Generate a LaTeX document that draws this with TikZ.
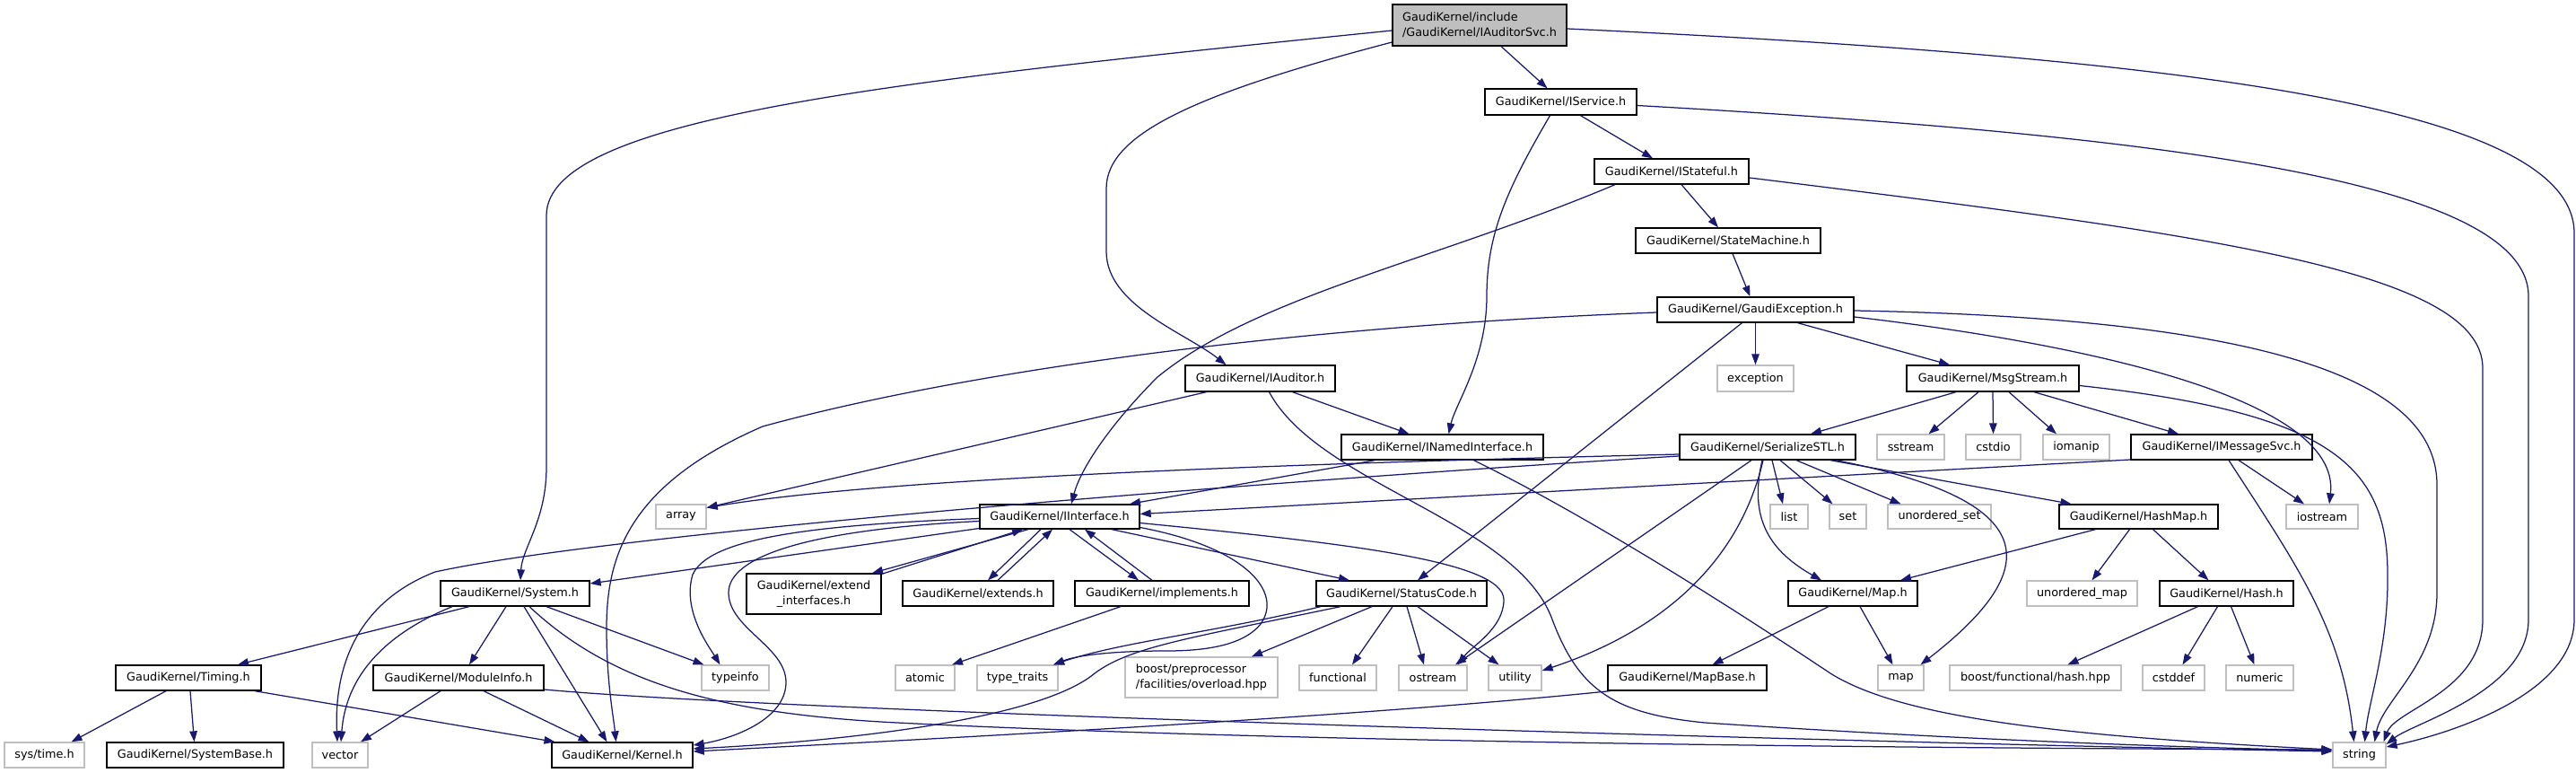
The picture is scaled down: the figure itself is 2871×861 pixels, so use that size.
\documentclass[tikz,border=0pt]{standalone}
\usepackage{fontspec}
\setmainfont{DejaVu Sans}
\usetikzlibrary{arrows.meta,calc}
\definecolor{eb}{HTML}{191970}
\definecolor{gb}{HTML}{BFBFBF}
\tikzset{
  nb/.style={fill=white, line width=1.3pt, inner sep=0pt, text=black,
    font=\fontsize{12.8}{17}\selectfont},
  pf/.style={nb, draw=black},
  sy/.style={nb, draw=gb},
  ed/.style={draw=eb, line width=1.25pt, -{Triangle[length=12pt,width=8.5pt]}},
}
\begin{document}
\begin{tikzpicture}[x=1pt,y=-1pt]
\path[use as bounding box, fill=white] (0,0) rectangle (2871,861);

% ---------- nodes ----------
\node[pf, fill=gb, minimum width=194pt, minimum height=46pt, align=left] (top) at (1649,28) {GaudiKernel/include\\/GaudiKernel/IAuditorSvc.h};
\node[pf, minimum width=169pt, minimum height=29pt] (IService) at (1739.5,113.5) {GaudiKernel/IService.h};
\node[pf, minimum width=172pt, minimum height=28pt] (IStateful) at (1863,191) {GaudiKernel/IStateful.h};
\node[pf, minimum width=206pt, minimum height=28pt] (StateMachine) at (1926,268) {GaudiKernel/StateMachine.h};
\node[pf, minimum width=219pt, minimum height=28pt] (GaudiException) at (1956.5,345) {GaudiKernel/GaudiException.h};
\node[pf, minimum width=167pt, minimum height=29pt] (IAuditor) at (1404.5,421.5) {GaudiKernel/IAuditor.h};
\node[sy, minimum width=85pt, minimum height=29pt] (exception) at (1956.5,421.5) {exception};
\node[pf, minimum width=192pt, minimum height=29pt] (MsgStream) at (2221,421.5) {GaudiKernel/MsgStream.h};
\node[pf, minimum width=225pt, minimum height=28pt] (INamedInterface) at (1607.5,498) {GaudiKernel/INamedInterface.h};
\node[pf, minimum width=196pt, minimum height=28pt] (SerializeSTL) at (1970,498) {GaudiKernel/SerializeSTL.h};
\node[sy, minimum width=75pt, minimum height=28pt] (sstream) at (2129.5,498) {sstream};
\node[sy, minimum width=61pt, minimum height=28pt] (cstdio) at (2221.5,498) {cstdio};
\node[sy, minimum width=74pt, minimum height=28pt] (iomanip) at (2314,498) {iomanip};
\node[pf, minimum width=202pt, minimum height=28pt] (IMessageSvc) at (2476,498) {GaudiKernel/IMessageSvc.h};
\node[sy, minimum width=56pt, minimum height=27pt] (array) at (759,575.5) {array};
\node[pf, minimum width=178pt, minimum height=27pt] (IInterface) at (1181,575.5) {GaudiKernel/IInterface.h};
\node[sy, minimum width=42pt, minimum height=27pt] (list) at (1994,575.5) {list};
\node[sy, minimum width=41pt, minimum height=27pt] (set) at (2059.5,575.5) {set};
\node[sy, minimum width=115pt, minimum height=27pt] (unorderedset) at (2161.5,575.5) {unordered\_set};
\node[pf, minimum width=177pt, minimum height=27pt] (HashMap) at (2383.5,575.5) {GaudiKernel/HashMap.h};
\node[sy, minimum width=80pt, minimum height=27pt] (iostream) at (2588,575.5) {iostream};
\node[pf, minimum width=166pt, minimum height=28pt] (System) at (574,661) {GaudiKernel/System.h};
\node[pf, minimum width=150pt, minimum height=45pt, align=center] (extendinterfaces) at (907,661.5) {GaudiKernel/extend\\\_interfaces.h};
\node[pf, minimum width=168pt, minimum height=28pt] (extends) at (1090,661) {GaudiKernel/extends.h};
\node[pf, minimum width=194pt, minimum height=28pt] (implements) at (1295,661) {GaudiKernel/implements.h};
\node[pf, minimum width=190pt, minimum height=28pt] (StatusCode) at (1562,661) {GaudiKernel/StatusCode.h};
\node[pf, minimum width=144pt, minimum height=28pt] (Map) at (2065,661) {GaudiKernel/Map.h};
\node[sy, minimum width=123pt, minimum height=28pt] (unorderedmap) at (2320.5,661) {unordered\_map};
\node[pf, minimum width=149pt, minimum height=28pt] (Hash) at (2481.5,661) {GaudiKernel/Hash.h};
\node[pf, minimum width=162pt, minimum height=28pt] (Timing) at (210,755) {GaudiKernel/Timing.h};
\node[pf, minimum width=190pt, minimum height=28pt] (ModuleInfo) at (511,755) {GaudiKernel/ModuleInfo.h};
\node[sy, minimum width=75pt, minimum height=28pt] (typeinfo) at (819.5,755) {typeinfo};
\node[sy, minimum width=66pt, minimum height=28pt] (atomic) at (1031,755) {atomic};
\node[sy, minimum width=90pt, minimum height=28pt] (typetraits) at (1134,755) {type\_traits};
\node[sy, minimum width=170pt, minimum height=45pt, align=left] (boostpp) at (1339,754.5) {boost/preprocessor\\/facilities/overload.hpp};
\node[sy, minimum width=86pt, minimum height=28pt] (functional) at (1491,755) {functional};
\node[sy, minimum width=76pt, minimum height=28pt] (ostream) at (1597,755) {ostream};
\node[sy, minimum width=59pt, minimum height=28pt] (utility) at (1688.5,755) {utility};
\node[pf, minimum width=177pt, minimum height=28pt] (MapBase) at (1880.5,755) {GaudiKernel/MapBase.h};
\node[sy, minimum width=51pt, minimum height=28pt] (map) at (2118.5,755) {map};
\node[sy, minimum width=191pt, minimum height=28pt] (boosthash) at (2268.5,755) {boost/functional/hash.hpp};
\node[sy, minimum width=69pt, minimum height=28pt] (cstddef) at (2422.5,755) {cstddef};
\node[sy, minimum width=75pt, minimum height=28pt] (numeric) at (2518.5,755) {numeric};
\node[sy, minimum width=89pt, minimum height=28pt] (systime) at (49.5,841) {sys/time.h};
\node[pf, minimum width=197pt, minimum height=28pt] (SystemBase) at (217.5,841) {GaudiKernel/SystemBase.h};
\node[sy, minimum width=62pt, minimum height=28pt] (vector) at (379,841) {vector};
\node[pf, minimum width=157pt, minimum height=28pt] (Kernel) at (693.5,841) {GaudiKernel/Kernel.h};
\node[sy, minimum width=59pt, minimum height=28pt] (string) at (2629.5,841) {string};

% ---------- edges ----------
% IAuditorSvc.h
\draw[ed] ($(top.south)+(24,0)$) -- ($(IService.north)+(-15,0)$);
\draw[ed] ($(top.west)+(0,19)$) .. controls (1330,105) and (1233,150) .. (1233,210) -- (1233,280) .. controls (1233,340) and (1320,370) .. ($(IAuditor.north)+(-38,0)$);
\draw[ed] ($(top.west)+(0,6)$) .. controls (1000,90) and (609,130) .. (609,240) -- (609,520) .. controls (609,580) and (582,610) .. ($(System.north)+(6,0)$);
\draw[ed] ($(top.east)+(0,4)$) .. controls (2450,65) and (2869,120) .. (2869,260) -- (2869,690) .. controls (2869,770) and (2740,815) .. ($(string.east)+(0,-9)$);
% IService.h
\draw[ed] ($(IService.south)+(22,0)$) -- ($(IStateful.north)+(-21,0)$);
\draw[ed] ($(IService.south)+(-12,0)$) .. controls (1680,210) and (1657,260) .. (1657,330) .. controls (1657,400) and (1622,450) .. ($(INamedInterface.north)+(7,0)$);
\draw[ed] ($(IService.east)+(0,4)$) .. controls (2400,150) and (2818,200) .. (2818,330) -- (2818,690) .. controls (2818,770) and (2690,805) .. ($(string.east)+(0,-12)$);
% IStateful.h
\draw[ed] ($(IStateful.south)+(11,0)$) -- ($(StateMachine.north)+(-11,0)$);
\draw[ed] ($(IStateful.south)+(-63,0)$) .. controls (1600,290) and (1400,330) .. (1290,420) .. controls (1240,470) and (1205,520) .. ($(IInterface.north)+(13,0)$);
\draw[ed] ($(IStateful.east)+(0,7)$) .. controls (2450,260) and (2767,300) .. (2767,410) -- (2767,690) .. controls (2767,770) and (2670,790) .. ($(string.north)+(27,0)$);
% StateMachine.h
\draw[ed] ($(StateMachine.south)+(5,0)$) -- ($(GaudiException.north)+(-6,0)$);
% GaudiException.h
\draw[ed] (GaudiException.south) -- (exception.north);
\draw[ed] ($(GaudiException.south)+(47,0)$) -- ($(MsgStream.north)+(-48,0)$);
\draw[ed] ($(GaudiException.south)+(-15,0)$) -- ($(StatusCode.north)+(18,0)$);
\draw[ed] ($(GaudiException.west)+(0,3)$) .. controls (1400,365) and (1050,420) .. (850,475) .. controls (700,540) and (676,620) .. (676,700) .. controls (676,760) and (684,800) .. ($(Kernel.north)+(-7,0)$);
\draw[ed] ($(GaudiException.east)+(0,8)$) .. controls (2300,380) and (2610,440) .. ($(iostream.north)+(8,0)$);
\draw[ed] ($(GaudiException.east)+(0,1)$) .. controls (2550,355) and (2716,430) .. (2716,540) -- (2716,660) .. controls (2716,740) and (2655,780) .. ($(string.north)+(17,0)$);
% MsgStream.h
\draw[ed] ($(MsgStream.south)+(-41,0)$) -- ($(SerializeSTL.north)+(48,0)$);
\draw[ed] ($(MsgStream.south)+(-16,0)$) -- ($(sstream.north)+(20,0)$);
\draw[ed] (MsgStream.south) -- (cstdio.north);
\draw[ed] ($(MsgStream.south)+(18,0)$) -- ($(iomanip.north)+(-22,0)$);
\draw[ed] ($(MsgStream.south)+(46,0)$) -- ($(IMessageSvc.north)+(-48,0)$);
\draw[ed] ($(MsgStream.east)+(0,8)$) .. controls (2600,460) and (2661,520) .. (2661,640) .. controls (2662,720) and (2640,780) .. ($(string.north)+(6,0)$);
% IMessageSvc.h
\draw[ed] ($(IMessageSvc.west)+(0,14)$) -- ($(IInterface.east)+(0,-3)$);
\draw[ed] ($(IMessageSvc.south)+(19,0)$) -- ($(iostream.north)+(-20,0)$);
\draw[ed] ($(IMessageSvc.south)+(8,0)$) .. controls (2560,630) and (2610,700) .. ($(string.north)+(-6,0)$);
% IAuditor.h
\draw[ed] ($(IAuditor.south)+(36,0)$) -- ($(INamedInterface.north)+(-37,0)$);
\draw[ed] ($(IAuditor.south)+(-60,0)$) -- ($(array.east)+(0,-10)$);
\draw[ed] ($(IAuditor.south)+(10,0)$) .. controls (1470,540) and (1690,580) .. (1730,690) .. controls (1760,770) and (1800,795) .. (1900,805) .. controls (2200,825) and (2450,833) .. ($(string.west)+(0,-5)$);
% INamedInterface.h
\draw[ed] ($(INamedInterface.south)+(-75,0)$) -- ($(IInterface.north)+(78,0)$);
\draw[ed] ($(INamedInterface.south)+(35,0)$) .. controls (1780,580) and (1950,690) .. (2040,750) .. controls (2120,800) and (2300,820) .. ($(string.west)+(0,-6)$);
% SerializeSTL.h
\draw[ed] ($(SerializeSTL.west)+(0,8)$) .. controls (1500,515) and (1000,530) .. ($(array.east)+(0,-10)$);
\draw[ed] ($(SerializeSTL.west)+(0,10)$) .. controls (1500,530) and (700,590) .. (485,637) .. controls (400,670) and (372,740) .. ($(vector.north)+(-3,0)$);
\draw[ed] ($(SerializeSTL.south)+(5,0)$) -- ($(list.north)+(-7,0)$);
\draw[ed] ($(SerializeSTL.south)+(14,0)$) -- ($(set.north)+(-17,0)$);
\draw[ed] ($(SerializeSTL.south)+(32,0)$) -- ($(unorderedset.north)+(-43,0)$);
\draw[ed] ($(SerializeSTL.south)+(70,0)$) -- ($(HashMap.north)+(-75,0)$);
\draw[ed] ($(SerializeSTL.south)+(-6,0)$) .. controls (1948,580) and (1975,615) .. ($(Map.north)+(-35,0)$);
\draw[ed] ($(SerializeSTL.south)+(76,0)$) .. controls (2290,560) and (2270,640) .. ($(map.north)+(22,0)$);
\draw[ed] ($(SerializeSTL.south)+(-18,0)$) -- ($(ostream.north)+(25,0)$);
\draw[ed] ($(SerializeSTL.south)+(-5,0)$) .. controls (1940,620) and (1860,700) .. ($(utility.east)+(0,-8)$);
% HashMap.h, Map.h, Hash.h, MapBase.h
\draw[ed] ($(HashMap.south)+(-48,0)$) -- ($(Map.north)+(53,0)$);
\draw[ed] ($(HashMap.south)+(-10,0)$) -- ($(unorderedmap.north)+(11,0)$);
\draw[ed] ($(HashMap.south)+(16,0)$) -- ($(Hash.north)+(-20,0)$);
\draw[ed] ($(Map.south)+(-27,0)$) -- ($(MapBase.north)+(28,0)$);
\draw[ed] ($(Map.south)+(8,0)$) -- ($(map.north)+(-9,0)$);
\draw[ed] ($(Hash.south)+(-32,0)$) -- ($(boosthash.north)+(36,0)$);
\draw[ed] ($(Hash.south)+(-10,0)$) -- ($(cstddef.north)+(10,0)$);
\draw[ed] ($(Hash.south)+(5,0)$) -- ($(numeric.north)+(-6,0)$);
\draw[ed] ($(MapBase.south)+(-86,0)$) .. controls (1500,800) and (1000,825) .. ($(Kernel.east)+(0,-4)$);
% IInterface.h
\draw[ed] ($(IInterface.west)+(0,13)$) -- ($(System.east)+(0,-11)$);
\draw[ed] ($(IInterface.west)+(0,2)$) .. controls (900,585) and (790,600) .. (772,640) .. controls (760,680) and (790,720) .. ($(typeinfo.north)+(-17,0)$);
\draw[ed] ($(IInterface.west)+(0,5)$) .. controls (900,590) and (812,620) .. (812,660) .. controls (812,700) and (876,720) .. (876,760) .. controls (876,800) and (820,822) .. ($(Kernel.east)+(0,-11)$);
\draw[ed] ($(IInterface.south)+(-35,0)$) -- ($(extendinterfaces.north)+(65,0)$);
\draw[ed] ($(extendinterfaces.north east)+(0,1)$) -- ($(IInterface.south)+(-41,0)$);
\draw[ed] ($(IInterface.south)+(-21,0)$) -- ($(extends.north)+(11,0)$);
\draw[ed] ($(extends.north)+(22,0)$) -- ($(IInterface.south)+(-8,0)$);
\draw[ed] ($(IInterface.south)+(11,0)$) -- ($(implements.north)+(-26,0)$);
\draw[ed] ($(implements.north)+(-11,0)$) -- ($(IInterface.south)+(28,0)$);
\draw[ed] ($(IInterface.south)+(58,0)$) -- ($(StatusCode.north)+(-58,0)$);
\draw[ed] ($(IInterface.east)+(0,7)$) .. controls (1500,605) and (1676,625) .. (1676,668) .. controls (1676,700) and (1640,720) .. ($(ostream.north)+(28,0)$);
\draw[ed] ($(IInterface.east)+(0,12)$) .. controls (1390,610) and (1430,660) .. (1405,695) .. controls (1385,720) and (1340,725) .. (1300,725) .. controls (1240,725) and (1200,730) .. ($(typetraits.north)+(40,0)$);
% implements.h
\draw[ed] ($(implements.south)+(-46,0)$) -- ($(atomic.north)+(30,0)$);
% StatusCode.h
\draw[ed] ($(StatusCode.south)+(-90,0)$) .. controls (1350,705) and (1250,715) .. ($(typetraits.north)+(40,0)$);
\draw[ed] ($(StatusCode.south)+(-33,0)$) -- ($(boostpp.north)+(56,0)$);
\draw[ed] ($(StatusCode.south)+(-10,0)$) -- ($(functional.north)+(16,0)$);
\draw[ed] ($(StatusCode.south)+(6,0)$) -- ($(ostream.north)+(-10,0)$);
\draw[ed] ($(StatusCode.south)+(18,0)$) -- ($(utility.north)+(-18,0)$);
\draw[ed] ($(StatusCode.south)+(-68,0)$) .. controls (1330,710) and (1260,720) .. (1220,750) .. controls (1160,800) and (950,825) .. ($(Kernel.east)+(0,-7)$);
% System.h
\draw[ed] ($(System.south)+(-51,0)$) -- ($(Timing.north)+(55,0)$);
\draw[ed] ($(System.south)+(-70,0)$) .. controls (420,710) and (385,760) .. ($(vector.north)+(1,0)$);
\draw[ed] ($(System.south)+(-10,0)$) -- ($(ModuleInfo.north)+(12,0)$);
\draw[ed] ($(System.south)+(10,0)$) -- ($(Kernel.north)+(-17,0)$);
\draw[ed] ($(System.south)+(35,0)$) -- ($(typeinfo.north)+(-35,0)$);
\draw[ed] ($(System.south)+(16,0)$) .. controls (680,760) and (800,795) .. (1000,805) .. controls (1500,830) and (2300,834) .. ($(string.west)+(0,-6)$);
% ModuleInfo.h
\draw[ed] ($(ModuleInfo.east)+(0,13)$) .. controls (900,795) and (2200,830) .. ($(string.west)+(0,-4)$);
\draw[ed] ($(ModuleInfo.south)+(-20,0)$) -- ($(vector.north)+(23,0)$);
\draw[ed] ($(ModuleInfo.south)+(28,0)$) -- ($(Kernel.north)+(-37,0)$);
% Timing.h
\draw[ed] ($(Timing.south)+(-25,0)$) -- ($(systime.north)+(30,0)$);
\draw[ed] ($(Timing.south)+(2,0)$) -- ($(SystemBase.north)+(-1,0)$);
\draw[ed] ($(Timing.south)+(74,0)$) -- ($(Kernel.north)+(-75,0)$);
\end{tikzpicture}
\end{document}
